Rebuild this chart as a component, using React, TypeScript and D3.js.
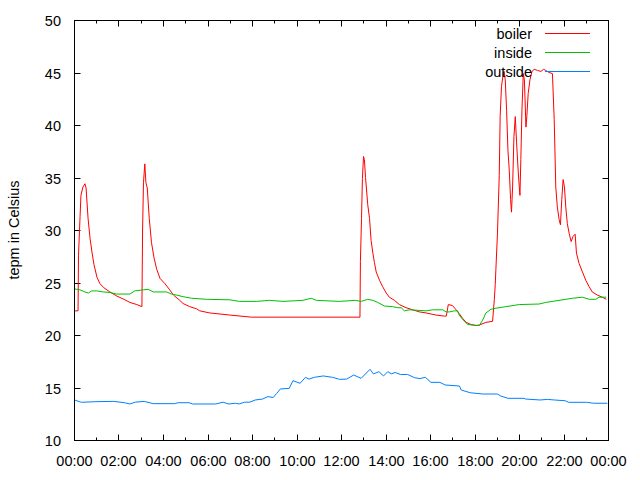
import React from "react";
import * as d3 from "d3";

// hours since midnight / temperature in °C
const boilerHours = [0, 0.16, 0.18, 0.25, 0.29, 0.38, 0.47, 0.52, 0.61, 0.7, 0.785, 0.875, 1.01, 1.14, 1.32, 1.59, 1.91, 2.22, 2.49, 2.8, 3.03, 3.06, 3.1, 3.16, 3.21, 3.27, 3.36, 3.46, 3.57, 3.69, 3.84, 4.06, 4.28, 4.45, 4.73, 4.88, 5.18, 5.48, 5.63, 6.08, 6.98, 7.95, 12.83, 12.85, 12.9, 12.94, 12.99, 13.03, 13.08, 13.18, 13.26, 13.33, 13.41, 13.48, 13.56, 13.71, 13.85, 14.01, 14.15, 14.38, 14.6, 14.9, 15.2, 15.5, 15.8, 16.25, 16.62, 16.71, 16.8, 16.99, 17.15, 17.3, 17.44, 17.6, 17.82, 18.04, 18.19, 18.49, 18.79, 18.87, 18.91, 18.94, 19.01, 19.09, 19.13, 19.19, 19.27, 19.31, 19.36, 19.42, 19.48, 19.54, 19.6, 19.64, 19.69, 19.75, 19.81, 19.87, 19.93, 19.99, 20.02, 20.06, 20.11, 20.17, 20.22, 20.29, 20.33, 20.39, 20.47, 20.56, 20.66, 20.81, 20.96, 21.08, 21.18, 21.33, 21.48, 21.56, 21.63, 21.7, 21.78, 21.84, 21.9, 21.96, 22.02, 22.08, 22.15, 22.23, 22.32, 22.41, 22.5, 22.56, 22.68, 22.83, 22.98, 23.13, 23.27, 23.5, 23.72, 23.9];
const boilerTemps = [22.3, 22.3, 27.6, 31.3, 33.3, 34.1, 34.4, 34.0, 31.1, 29.2, 27.9, 26.7, 25.5, 24.9, 24.5, 24.1, 23.7, 23.4, 23.1, 22.9, 22.7, 30.0, 34.5, 36.3, 34.5, 34.0, 31.1, 28.8, 27.4, 26.3, 25.4, 24.9, 24.3, 23.8, 23.3, 23.0, 22.7, 22.5, 22.3, 22.1, 21.9, 21.7, 21.7, 27.0, 31.1, 34.9, 37.0, 36.7, 35.0, 32.4, 31.1, 29.0, 27.8, 26.9, 26.0, 25.2, 24.6, 24.0, 23.6, 23.3, 22.9, 22.6, 22.4, 22.2, 22.1, 21.9, 21.8, 21.8, 22.9, 22.8, 22.4, 22.0, 21.6, 21.2, 21.0, 20.9, 20.95, 21.2, 21.3, 23.4, 24.8, 26.3, 29.7, 35.2, 40.8, 43.65, 44.9, 45.1, 44.3, 41.4, 37.6, 35.7, 32.9, 31.7, 34.1, 38.9, 40.8, 38.3, 36.0, 34.1, 33.3, 36.7, 41.4, 44.9, 44.3, 39.8, 40.8, 43.0, 44.3, 45.1, 45.3, 45.2, 45.1, 45.3, 45.2, 45.0, 44.9, 40.5, 34.1, 32.2, 31.0, 30.5, 32.9, 34.8, 34.1, 32.2, 30.6, 29.7, 28.9, 29.4, 29.6, 27.8, 26.8, 26.0, 25.2, 24.6, 24.1, 23.8, 23.6, 23.4];

const insideHours = [0, 0.1, 0.25, 0.47, 0.62, 0.77, 1.0, 1.29, 1.59, 1.89, 2.49, 2.71, 3.09, 3.31, 3.54, 4.14, 4.36, 4.59, 4.88, 5.26, 5.93, 6.98, 7.42, 8.17, 8.77, 9.37, 10.26, 10.64, 10.87, 11.91, 12.63, 12.88, 13.18, 13.41, 13.63, 13.93, 14.3, 14.53, 14.68, 14.83, 15.05, 15.8, 16.1, 16.55, 16.7, 16.85, 17.07, 17.22, 17.29, 17.44, 17.67, 17.89, 18.19, 18.34, 18.49, 18.72, 18.94, 19.39, 19.99, 20.88, 21.18, 21.78, 22.38, 22.83, 23.13, 23.43, 23.57, 23.9];
const insideTemps = [24.4, 24.35, 24.3, 24.1, 24.0, 24.2, 24.2, 24.1, 24.05, 23.9, 23.9, 24.2, 24.3, 24.35, 24.1, 24.1, 23.9, 23.8, 23.65, 23.5, 23.4, 23.35, 23.2, 23.2, 23.3, 23.2, 23.3, 23.5, 23.3, 23.2, 23.3, 23.2, 23.4, 23.3, 23.1, 22.76, 22.7, 22.6, 22.6, 22.3, 22.4, 22.3, 22.4, 22.4, 22.2, 22.2, 22.3, 22.3, 21.9, 21.5, 21.0, 20.95, 20.9, 21.4, 22.1, 22.45, 22.55, 22.7, 22.9, 22.95, 23.1, 23.3, 23.5, 23.6, 23.4, 23.4, 23.6, 23.6];

const outsideHours = [0, 0.31, 0.96, 1.76, 2.25, 2.49, 2.73, 3.13, 3.54, 4.5, 4.66, 5.15, 5.31, 6.35, 6.68, 6.92, 7.24, 7.4, 7.64, 7.88, 8.12, 8.45, 8.69, 8.93, 9.09, 9.25, 9.65, 9.82, 10.14, 10.38, 10.54, 10.78, 11.18, 11.59, 11.91, 12.23, 12.55, 12.88, 13.28, 13.44, 13.68, 13.89, 14.08, 14.24, 14.41, 14.65, 14.97, 15.29, 15.53, 15.77, 16.02, 16.42, 16.66, 17.3, 17.38, 17.79, 18.35, 19.0, 19.16, 19.48, 20.2, 20.28, 20.93, 21.25, 21.57, 22.05, 22.21, 23.01, 23.34, 23.95];
const outsideTemps = [13.81, 13.59, 13.65, 13.68, 13.55, 13.43, 13.6, 13.68, 13.46, 13.46, 13.55, 13.55, 13.43, 13.43, 13.6, 13.43, 13.5, 13.43, 13.6, 13.6, 13.81, 13.9, 14.13, 14.05, 14.44, 14.86, 14.92, 15.65, 15.4, 15.97, 15.8, 15.97, 16.1, 15.97, 15.78, 15.8, 16.19, 15.87, 16.73, 16.29, 16.51, 16.1, 16.51, 16.3, 16.43, 16.24, 16.24, 15.93, 15.85, 15.97, 15.49, 15.49, 15.24, 15.14, 14.76, 14.5, 14.38, 14.38, 14.19, 13.97, 13.97, 13.9, 13.81, 13.87, 13.81, 13.74, 13.59, 13.59, 13.5, 13.5];

const seriesNames = ["boiler", "inside", "outside"];
const seriesColors = ["#ff0000", "#00c000", "#0080ff"];
const yTicks = [10, 15, 20, 25, 30, 35, 40, 45, 50];
const xTickHours = [0, 2, 4, 6, 8, 10, 12, 14, 16, 18, 20, 22, 24];
const xTickLabels = ["00:00", "02:00", "04:00", "06:00", "08:00", "10:00", "12:00", "14:00", "16:00", "18:00", "20:00", "22:00", "00:00"];
const yLabel = "tepm in Celsius";

export default function App() {
  const W = 640, H = 480;
  const L = 74.5, R = 608.5, T = 20, B = 440;
  const x = d3.scaleLinear().domain([0, 24]).range([L, R]);
  const y = d3.scaleLinear().domain([10, 50]).range([B, T]);
  const font = "'Liberation Sans', Arial, sans-serif";

  const series = [
    { h: boilerHours, v: boilerTemps },
    { h: insideHours, v: insideTemps },
    { h: outsideHours, v: outsideTemps },
  ];
  const line = d3.line<[number, number]>().x((d) => x(d[0])).y((d) => y(d[1]));

  const minorHours = d3.range(1, 24, 2);
  const yb = B + 0.5, yt = T + 0.5;

  return (
    <svg width={W} height={H} style={{ position: "absolute", left: 0, top: 0, background: "#fff" }} fontFamily={font}>
      <rect x={0} y={0} width={W} height={H} fill="#fff" />
      {/* y-axis ticks and labels */}
      {yTicks.map((t) => {
        const yy = Math.round(y(t)) + 0.5;
        return (
          <g key={"y" + t}>
            <line x1={L} x2={L + 6} y1={yy} y2={yy} stroke="#000" />
            <line x1={R - 6} x2={R} y1={yy} y2={yy} stroke="#000" />
            <text x={61} y={yy} textAnchor="end" dominantBaseline="central" fontSize={14.5} fill="#000">{t}</text>
          </g>
        );
      })}
      {xTickHours.map((h, i) => {
        const xx = Math.round(x(h) - 0.5) + 0.5;
        return (
          <g key={"x" + i}>
            <line x1={xx} x2={xx} y1={yb} y2={yb - 6} stroke="#000" />
            <line x1={xx} x2={xx} y1={yt} y2={yt + 6} stroke="#000" />
            <text x={xx} y={461} textAnchor="middle" dominantBaseline="central" fontSize={14.5} fill="#000">{xTickLabels[i]}</text>
          </g>
        );
      })}
      {minorHours.map((h) => {
        const xx = Math.round(x(h) - 0.5) + 0.5;
        return (
          <g key={"m" + h}>
            <line x1={xx} x2={xx} y1={yb} y2={yb - 3} stroke="#000" />
            <line x1={xx} x2={xx} y1={yt} y2={yt + 3} stroke="#000" />
          </g>
        );
      })}
      <text transform={`translate(14,230) rotate(-90)`} textAnchor="middle" dominantBaseline="central" fontSize={14.5} fill="#000">{yLabel}</text>
      {/* data */}
      {series.map((s, i) => (
        <path key={"s" + i} d={line(s.h.map((h, j) => [h, s.v[j]] as [number, number])) || ""} fill="none" stroke={seriesColors[i]} strokeWidth={1} />
      ))}
      {/* legend */}
      {seriesNames.map((n, i) => {
        const ly = 33.5 + i * 19;
        return (
          <g key={"l" + n}>
            <text x={532} y={ly} textAnchor="end" dominantBaseline="central" fontSize={14.5} fill="#000">{n}</text>
            <line x1={545} x2={590} y1={ly} y2={ly} stroke={seriesColors[i]} />
          </g>
        );
      })}
      {/* frame */}
      <rect x={L} y={T + 0.5} width={R - L} height={B - T} fill="none" stroke="#000" />
    </svg>
  );
}
